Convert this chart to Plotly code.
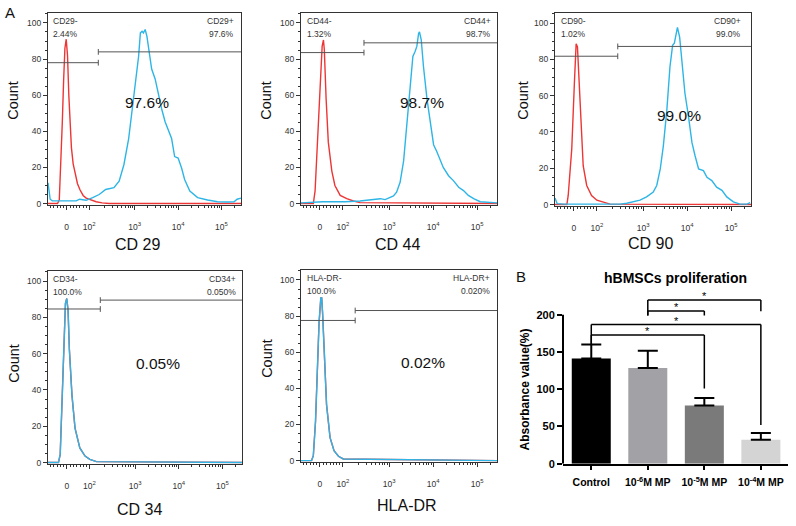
import numpy as np
import plotly.graph_objects as go

W, H = 796, 526

# ---------------- data ----------------
# Flow-cytometry histograms.  x = position on the biexponential display axis
# (decade units: "0" -> 1.43, 10^2 -> 1.95, 10^3 -> 3, 10^4 -> 4, 10^5 -> 5); y = Count
axis_tick_vals = [1.43, 1.95, 3, 4, 5]
axis_tick_text = ["0", "10<sup>2</sup>", "10<sup>3</sup>", "10<sup>4</sup>", "10<sup>5</sup>"]

cd29_iso_x = [1.00, 1.22, 1.26, 1.30, 1.33, 1.36, 1.39, 1.42, 1.45, 1.48, 1.51, 1.54, 1.58, 1.62,
              1.68, 1.74, 1.81, 1.88, 1.98, 2.11, 2.25, 2.41, 5.45]
cd29_iso_y = [0, 0, 2, 22, 45, 68, 86, 91, 82, 60, 42, 31, 22, 17, 11, 7.5, 4.5, 3, 2, 1, 0.4, 0, 0]
cd29_pos_x = [1.00, 1.02, 1.05, 1.10, 1.30, 1.50, 1.65, 1.73, 1.88, 2.03, 2.18, 2.33, 2.41, 2.52, 2.64,
              2.75, 2.86, 2.94, 3.02, 3.09, 3.13, 3.17, 3.20, 3.24, 3.28, 3.32, 3.39, 3.47, 3.55, 3.62,
              3.70, 3.77, 3.85, 3.92, 4.00, 4.08, 4.15, 4.27, 4.45, 4.68, 4.91, 5.14, 5.29, 5.36, 5.45]
cd29_pos_y = [11.5, 6, 2.4, 1.5, 1.5, 1.5, 1.5, 2.4, 1.8, 3.3, 5, 7.8, 8.4, 8.8, 12.4,
              21.5, 36, 52.5, 69, 81.7, 94.5, 95.4, 94.5, 96.4, 92.7, 85.4, 74.5, 69, 59.9, 52.5,
              45.3, 40.7, 36, 26, 25.2, 19.7, 13.3, 6.9, 3.3, 2, 1, 0.9, 1, 2.4, 3]

cd44_iso_x = [1.00, 1.28, 1.32, 1.37, 1.43, 1.48, 1.51, 1.53, 1.57, 1.62, 1.70, 1.77, 1.89, 2.04, 2.19, 2.34, 5.45]
cd44_iso_y = [0, 0, 7, 31, 67, 87, 90.6, 85, 58, 34, 18, 10, 4.5, 2.7, 1.4, 0.5, 0]
cd44_pos_x = [1.00, 1.50, 2.00, 2.27, 2.34, 2.49, 2.68, 2.80, 2.91, 3.02, 3.10, 3.17, 3.25, 3.33, 3.40,
              3.48, 3.54, 3.59, 3.63, 3.67, 3.69, 3.73, 3.78, 3.86, 3.93, 4.01, 4.08, 4.16, 4.23, 4.35,
              4.46, 4.58, 4.69, 4.80, 4.92, 5.07, 5.30, 5.45]
cd44_pos_y = [0.4, 1, 1, 1, 1.4, 1.8, 2.4, 2.7, 2.2, 3.6, 4.2, 6.3, 11.8, 23.6, 43.5,
              63.4, 81.5, 84.2, 87, 94.2, 95.1, 90.6, 76, 58, 47, 32.6, 29, 23.6, 20, 15.4,
              12.7, 9, 7.2, 4.5, 2.7, 1, 0.5, 0.4]

cd90_iso_x = [1.00, 1.27, 1.30, 1.38, 1.44, 1.48, 1.51, 1.55, 1.59, 1.64, 1.72, 1.83, 1.95, 2.10, 2.25, 5.45]
cd90_iso_y = [0, 0, 5, 30.5, 66.8, 88.6, 86.8, 66.8, 39.6, 21.4, 10.5, 5, 2.4, 1.1, 0.2, 0]
cd90_pos_x = [1.00, 1.05, 1.20, 2.10, 2.48, 2.63, 2.78, 2.93, 3.08, 3.23, 3.31, 3.39, 3.46, 3.54, 3.61,
              3.67, 3.71, 3.75, 3.78, 3.83, 3.88, 3.95, 4.03, 4.11, 4.18, 4.26, 4.37, 4.45, 4.56, 4.67,
              4.79, 4.90, 5.05, 5.20, 5.36, 5.43]
cd90_pos_y = [3.6, 0.5, 0.2, 0.2, 0.2, 0.7, 1.5, 2.4, 4.2, 6.9, 10.5, 19.6, 32.3, 52.3, 75.9,
              87.7, 88.9, 94, 97.6, 92.2, 79.5, 61.3, 48.6, 34.1, 26.9, 19.6, 18.7, 15, 13.2, 9.6,
              7.8, 4.2, 1.5, 0.2, 0.2, 1.1]

cd34_iso_x = [1.00, 1.24, 1.28, 1.32, 1.36, 1.40, 1.43, 1.46, 1.49, 1.55, 1.62, 1.73, 1.85, 1.96, 2.11, 5.45]
cd34_iso_y = [0, 0, 4.5, 31.6, 67.8, 87.7, 90.4, 84, 62.4, 37, 19, 8.1, 3.6, 1.8, 0.5, 0]
cd34_pos_x = [1.00, 1.24, 1.28, 1.32, 1.36, 1.40, 1.43, 1.46, 1.49, 1.55, 1.62, 1.73, 1.85, 1.96, 2.11, 5.45]
cd34_pos_y = [0, 0, 4.5, 31.6, 67.8, 87.7, 90.4, 84, 62.4, 37, 19, 8.1, 3.6, 1.8, 0.5, 0]

hla_iso_x = [1.00, 1.24, 1.28, 1.33, 1.37, 1.41, 1.45, 1.47, 1.49, 1.53, 1.58, 1.66, 1.75, 1.85, 1.96, 5.45]
hla_iso_y = [0, 0, 2.7, 21.8, 49, 76.4, 90, 90, 81.8, 58, 31, 12.7, 5.5, 2.4, 0.9, 0]
hla_pos_x = [1.00, 1.24, 1.28, 1.33, 1.37, 1.41, 1.45, 1.47, 1.49, 1.53, 1.58, 1.66, 1.75, 1.85, 1.96, 5.45]
hla_pos_y = [0, 0, 2.7, 21.8, 49, 76.4, 90, 90, 81.8, 58, 31, 12.7, 5.5, 2.4, 0.9, 0]

marker_titles = ["CD 29", "CD 44", "CD 90", "CD 34", "HLA-DR"]
neg_labels = ["CD29-", "CD44-", "CD90-", "CD34-", "HLA-DR-"]
neg_pcts = ["2.44%", "1.32%", "1.02%", "100.0%", "100.0%"]
pos_labels = ["CD29+", "CD44+", "CD90+", "CD34+", "HLA-DR+"]
pos_pcts = ["97.6%", "98.7%", "99.0%", "0.050%", "0.020%"]
big_pcts = ["97.6%", "98.7%", "99.0%", "0.05%", "0.02%"]
gate_split = [2.16, 2.43, 2.425, 2.20, 2.23]
gate_neg_level = [78, 83.6, 81.7, 84.6, 77.6]
gate_pos_level = [84, 89, 87.1, 89.5, 83.1]

# Bar chart (hBMSCs proliferation)
bar_groups = ["Control", "10<sup>-6</sup>M MP", "10<sup>-5</sup>M MP", "10<sup>-4</sup>M MP"]
bar_values = [141, 128.5, 78, 32]
bar_errors = [19, 23, 10, 9]
bar_colors = ["#000000", "#a2a2a6", "#7a7a7a", "#d4d4d4"]
sig_pairs = [(0, 2), (0, 3), (1, 2), (1, 3)]
sig_levels = [172.6, 186.7, 204.8, 219.8]
sig_left_ends = [160, 160, 199, 199]
sig_right_ends = [101, 52, 199, 204.5]

# ---------------- figure ----------------
RED = "#ee3535"
CYAN = "#2cb5e6"
GRAY = "#333333"
FONT = "Liberation Sans, Arial, sans-serif"

iso_xs = [cd29_iso_x, cd44_iso_x, cd90_iso_x, cd34_iso_x, hla_iso_x]
iso_ys = [cd29_iso_y, cd44_iso_y, cd90_iso_y, cd34_iso_y, hla_iso_y]
pos_xs = [cd29_pos_x, cd44_pos_x, cd90_pos_x, cd34_pos_x, hla_pos_x]
pos_ys = [cd29_pos_y, cd44_pos_y, cd90_pos_y, cd34_pos_y, hla_pos_y]

# panel frames in pixels (left, top, right, bottom)
frames = [(48, 13, 241, 207), (301, 13, 497, 207), (555, 13, 751, 208),
          (48, 274, 242, 469), (301, 273, 497, 467)]
count_pos = [(13, 102), (266, 102), (523, 102), (14, 368), (267, 363)]
xtitle_pos = [(137, 247), (397, 247), (650, 246), (139, 515), (407, 511)]
big_pos = [(3.28, 56.2), (3.74, 55.8), (3.82, 49), (3.53, 54.3), (3.78, 54.5)]
left_shift = [3, 4, 4, 3, 4]
right_shift = [-5, -4, -8, -4, -5]

XR = [1.0, 5.45]
YR = [-0.6, 105.6]

minor_x = [k + np.log10(m) for k in (2, 3, 4, 5) for m in range(2, 10) if k + np.log10(m) < XR[1]]
minor_x += [v for v in np.arange(1.06, 1.92, 0.075) if abs(v - 1.43) > 0.03]


def px(x):
    return x / W


def py(y):
    return 1 - y / H


fig = go.Figure()
layout = dict(width=W, height=H, margin=dict(l=0, r=0, t=0, b=0),
              paper_bgcolor="white", plot_bgcolor="white", showlegend=False,
              font=dict(family=FONT, color="#222"))
shapes, annotations = [], []

for i in range(5):
    n = i + 1
    sx = "" if n == 1 else str(n)
    xid, yid = "x" + sx, "y" + sx
    l, t, r, b = frames[i]
    layout["xaxis" + sx] = dict(
        domain=[px(l), px(r)], anchor=yid, range=XR, showgrid=False, zeroline=False,
        showline=True, mirror=True, linecolor=GRAY, linewidth=1,
        ticks="outside", ticklen=4, tickcolor=GRAY, tickwidth=1,
        tickmode="array", tickvals=axis_tick_vals, ticktext=axis_tick_text,
        tickfont=dict(size=8.5, color=GRAY, family=FONT), ticklabelstandoff=10,
        minor=dict(tickmode="array", tickvals=minor_x, ticks="outside", ticklen=2,
                   tickcolor=GRAY, tickwidth=1, showgrid=False))
    layout["yaxis" + sx] = dict(
        domain=[py(b), py(t)], anchor=xid, range=YR, showgrid=False, zeroline=False,
        showline=True, mirror=True, linecolor=GRAY, linewidth=1,
        ticks="outside", ticklen=4, tickcolor=GRAY,
        tickmode="array", tickvals=[0, 20, 40, 60, 80, 100],
        tickfont=dict(size=8.5, color=GRAY, family=FONT),
        minor=dict(dtick=5, tick0=0, ticks="outside", ticklen=2, tickcolor=GRAY, showgrid=False))

    fig.add_trace(go.Scatter(x=iso_xs[i], y=iso_ys[i], xaxis=xid, yaxis=yid, mode="lines",
                             line=dict(color=RED, width=1.4), hoverinfo="skip"))
    fig.add_trace(go.Scatter(x=pos_xs[i], y=pos_ys[i], xaxis=xid, yaxis=yid, mode="lines",
                             line=dict(color=CYAN, width=1.4), hoverinfo="skip"))

    # gates
    s, gn, gp = gate_split[i], gate_neg_level[i], gate_pos_level[i]
    gl = dict(color="#555555", width=1)
    shapes += [
        dict(type="line", xref=xid, yref=yid, x0=XR[0], x1=s, y0=gn, y1=gn, line=gl),
        dict(type="line", xref=xid, yref=yid, x0=s, x1=s, y0=gn - 1.6, y1=gn + 1.6, line=gl),
        dict(type="line", xref=xid, yref=yid, x0=s, x1=XR[1], y0=gp, y1=gp, line=gl),
        dict(type="line", xref=xid, yref=yid, x0=s, x1=s, y0=gp - 1.6, y1=gp + 1.6, line=gl),
    ]
    small = dict(size=8.5, color=GRAY, family=FONT)
    for txt, xa, ys, anch, xs in [(neg_labels[i], 0, -8, "left", left_shift[i]),
                                  (neg_pcts[i], 0, -21, "left", left_shift[i]),
                                  (pos_labels[i], 1, -8, "right", right_shift[i]),
                                  (pos_pcts[i], 1, -21, "right", right_shift[i])]:
        annotations.append(dict(text=txt, xref=xid + " domain", yref=yid + " domain", x=xa, y=1,
                                xanchor=anch, yanchor="middle", xshift=xs, yshift=ys,
                                showarrow=False, font=small))
    annotations.append(dict(text=big_pcts[i], xref=xid, yref=yid, x=big_pos[i][0], y=big_pos[i][1],
                            xanchor="center", yanchor="middle", showarrow=False,
                            font=dict(size=15.5, color="#111", family=FONT)))
    annotations.append(dict(text="Count", xref="paper", yref="paper", x=px(count_pos[i][0]),
                            y=py(count_pos[i][1]), xanchor="center", yanchor="middle", textangle=-90,
                            showarrow=False, font=dict(size=14.5, color="#111", family=FONT)))
    annotations.append(dict(text=marker_titles[i], xref="paper", yref="paper", x=px(xtitle_pos[i][0]),
                            y=py(xtitle_pos[i][1]), xanchor="center", yanchor="middle",
                            showarrow=False, font=dict(size=16, color="#111", family=FONT)))

# ---- bar chart ----
bl, bt, br, bb = 563, 298, 788, 469
pix_per_unit = (469 - 318.3) / 200
ytop = (bb - bt) / pix_per_unit
cats = list(range(len(bar_groups)))
fig.add_trace(go.Bar(x=cats, y=bar_values, xaxis="x6", yaxis="y6", width=0.69,
                     marker=dict(color=bar_colors, line=dict(width=0)),
                     error_y=dict(type="data", array=bar_errors, arrayminus=[0] * 4, symmetric=False,
                                  color="black", thickness=2, width=10),
                     hoverinfo="skip"))
layout["xaxis6"] = dict(domain=[px(bl), px(br)], anchor="y6", range=[-0.5, 3.48], showgrid=False,
                        zeroline=False, showline=True, linecolor="black", linewidth=2,
                        ticks="outside", ticklen=4, tickwidth=1.5, tickcolor="black",
                        tickmode="array", tickvals=cats, ticktext=bar_groups, ticklabelstandoff=4,
                        tickfont=dict(size=10.5, color="black", family=FONT, weight="bold"))
layout["yaxis6"] = dict(domain=[py(bb), py(bt)], anchor="x6", range=[0, ytop], showgrid=False,
                        zeroline=False, showline=False,
                        ticks="outside", ticklen=5, tickwidth=1.5, tickcolor="black",
                        tickmode="array", tickvals=[0, 50, 100, 150, 200],
                        tickfont=dict(size=11, color="black", family=FONT, weight="bold"))
shapes.append(dict(type="line", xref="x6 domain", yref="y6", x0=0, x1=0, y0=0, y1=200,
                   line=dict(color="black", width=2)))
bk = dict(color="black", width=1.5)
for (a, c), lev, le, re in zip(sig_pairs, sig_levels, sig_left_ends, sig_right_ends):
    shapes += [
        dict(type="line", xref="x6", yref="y6", x0=a, x1=c, y0=lev, y1=lev, line=bk),
        dict(type="line", xref="x6", yref="y6", x0=a, x1=a, y0=le, y1=lev, line=bk),
        dict(type="line", xref="x6", yref="y6", x0=c, x1=c, y0=re, y1=lev, line=bk),
    ]
    annotations.append(dict(text="*", xref="x6", yref="y6", x=(a + c) / 2, y=lev, yanchor="bottom",
                            yshift=-4, showarrow=False,
                            font=dict(size=11, color="black", family=FONT)))

annotations.append(dict(text="<b>hBMSCs proliferation</b>", xref="paper", yref="paper", x=px(675),
                        y=py(281), xanchor="center", yanchor="middle", showarrow=False,
                        font=dict(size=14, color="black", family=FONT)))
annotations.append(dict(text="<b>Absorbance value(%)</b>", xref="paper", yref="paper", x=px(525),
                        y=py(394), xanchor="center", yanchor="middle", textangle=-90,
                        showarrow=False, font=dict(size=12, color="black", family=FONT)))
annotations.append(dict(text="A", xref="paper", yref="paper", x=px(10), y=py(13), xanchor="center",
                        yanchor="middle", showarrow=False, font=dict(size=15, color="#111", family=FONT)))
annotations.append(dict(text="B", xref="paper", yref="paper", x=px(521), y=py(280), xanchor="center",
                        yanchor="middle", showarrow=False, font=dict(size=15, color="#111", family=FONT)))

layout["shapes"] = shapes
layout["annotations"] = annotations
fig.update_layout(**layout)
# remove the browser's default 8px body margin so the figure sits at the page origin
fig.write_html("out.html", config={"displayModeBar": False},
               post_script="document.body.style.margin='0';")
